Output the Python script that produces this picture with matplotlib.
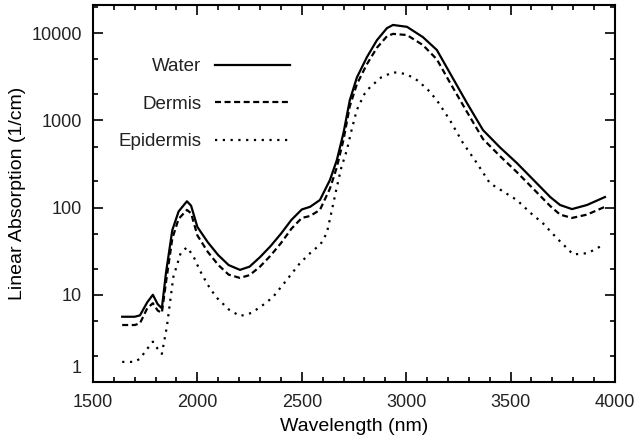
import matplotlib
matplotlib.use("Agg")
import matplotlib.pyplot as plt
import matplotlib.ticker as mticker
from matplotlib.transforms import ScaledTranslation

# ─── DATOS ────────────────────────────────────────────────────────────────────
wl_water = [1640, 1700, 1725, 1760, 1787, 1810, 1830, 1850, 1880, 1910,
            1950, 1970, 2000, 2050, 2100, 2150, 2204, 2250, 2300, 2350,
            2400, 2450, 2500, 2540, 2587, 2635, 2668, 2700, 2730, 2764,
            2812, 2860, 2908, 2937, 3004, 3080, 3147, 3210, 3291, 3368,
            3449, 3530, 3610, 3690, 3737, 3794, 3866, 3952]
water = [5.6, 5.6, 5.8, 8.2, 10, 7.8, 7.0, 18, 55, 90,
         118, 105, 60, 40, 28.5, 21.9, 19.3, 21, 27, 36,
         50, 72, 95, 102, 122, 207, 350, 720, 1700, 3100,
         5300, 8300, 11400, 12400, 11800, 9000, 6400, 3470, 1580, 773,
         490, 324, 207, 132, 107, 96, 107, 132]
dermis = [4.5, 4.5, 4.7, 7.0, 8.0, 6.6, 6.2, 14, 44, 74,
          94, 86, 48, 31, 22, 17, 15.6, 16.8, 21, 28,
          39, 57, 76, 80, 94, 165, 290, 600, 1450, 2600,
          4400, 6800, 9200, 9800, 9500, 7300, 5000, 2700, 1250, 610,
          390, 255, 163, 104, 83, 76, 83, 102]

wl_epi = [1640, 1700, 1725, 1760, 1787, 1810, 1830, 1854, 1885, 1920,
          1950, 1980, 2012, 2050, 2090, 2150, 2204, 2260, 2320, 2362,
          2420, 2491, 2540, 2590, 2620, 2645, 2668, 2690, 2716, 2740,
          2764, 2800, 2827, 2880, 2937, 3000, 3051, 3100, 3147, 3210,
          3272, 3340, 3401, 3470, 3530, 3600, 3655, 3720, 3800, 3870,
          3950]
epidermis = [1.7, 1.7, 1.85, 2.4, 2.9, 2.4, 2.1, 4.3, 16, 30,
             35, 28, 19, 13, 9.4, 6.8, 5.7, 6.2, 7.8, 9.4,
             14, 23, 30, 38, 51, 95, 172, 290, 455, 800,
             1320, 2000, 2400, 3100, 3560, 3400, 2900, 2300, 1700, 1000,
             550, 320, 190, 150, 122, 85, 66, 45, 29, 30,
             38]

xticks = [1500, 2000, 2500, 3000, 3500, 4000]
yticks = [1, 10, 100, 1000, 10000]
ytick_labels = ["1", "10", "100", "1000", "10000"]

# ─── FIGURA ───────────────────────────────────────────────────────────────────
plt.rcParams['font.family'] = ['Liberation Sans', 'DejaVu Sans']
plt.rcParams['text.color'] = '#222222'
plt.rcParams['xtick.labelcolor'] = '#222222'
plt.rcParams['ytick.labelcolor'] = '#222222'

fig = plt.figure(figsize=(6.41, 4.46), dpi=100)
ax = fig.add_axes([0.145, 0.1435, 0.8144, 0.8453])

lw = 1.6
ax.plot(wl_water, water, color='black', lw=lw, ls='-', label='Water')
ax.plot(wl_water, dermis, color='black', lw=lw, ls=(0, (2.7, 1.6)), label='Dermis')
ax.plot(wl_epi, epidermis, color='black', lw=lw, ls=(0, (1, 2.5)), label='Epidermis')

ax.set_yscale('log')
ax.set_xlim(1500, 4000)
ax.set_ylim(1, 21000)

ax.set_xticks(xticks)
ax.xaxis.set_minor_locator(mticker.MultipleLocator(100))
ax.set_yticks(yticks)
ax.set_yticklabels(ytick_labels)
ax.yaxis.set_minor_locator(mticker.LogLocator(base=10, subs=(2.0, 5.0)))
ax.yaxis.set_minor_formatter(mticker.NullFormatter())

ax.tick_params(which='both', direction='in', top=True, right=True, width=1.2)
ax.tick_params(which='major', length=7, labelsize=13)
ax.tick_params(which='minor', length=3.6)
ax.tick_params(axis='x', pad=8.5)
ax.tick_params(axis='y', pad=8)
for s in ax.spines.values():
    s.set_linewidth(1.5)

# la etiqueta "1" va un poco más arriba, como en el original
for lab in ax.get_yticklabels():
    if lab.get_text() == "1":
        lab.set_transform(lab.get_transform() + ScaledTranslation(0, 11 / 72, fig.dpi_scale_trans))

ax.set_xlabel('Wavelength (nm)', fontsize=14, labelpad=5)
ax.set_ylabel('Linear Absorption (1/cm)', fontsize=14, labelpad=4)

ax.legend(loc='upper right', bbox_to_anchor=(0.377, 0.859), frameon=False,
          markerfirst=False, fontsize=13.5, handlelength=4.0,
          handletextpad=0.7, labelspacing=1.09, borderpad=0, borderaxespad=0)

fig.savefig('out.png', dpi=100)
